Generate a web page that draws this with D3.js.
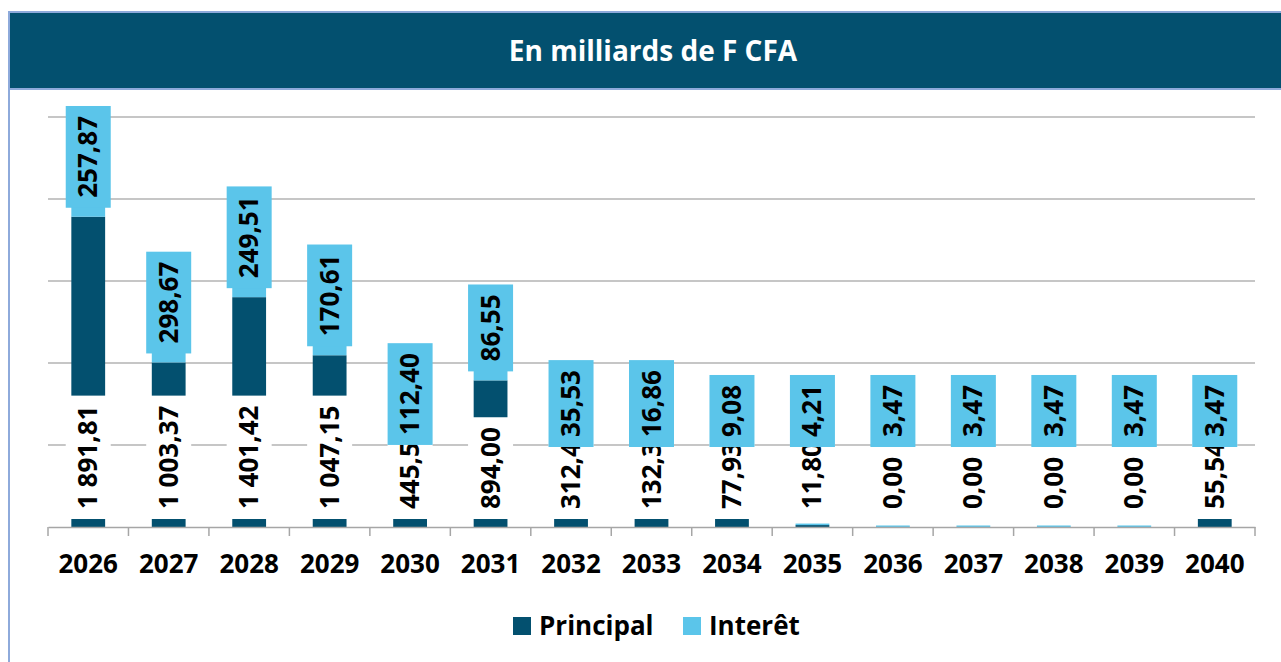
<!DOCTYPE html>
<html>
<head>
<meta charset="utf-8">
<title>Service de la dette</title>
<style>
body { margin: 0; background: #fff; font-family: "Open Sans", sans-serif; }
.grid line { stroke: #b3b3b3; stroke-width: 1.5px; }
.lbl { font-weight: bold; font-size: 26px; fill: #000; }
</style>
</head>
<body>
<script src="https://cdn.jsdelivr.net/npm/d3@7"></script>
<script>
// data
var years = ["2026","2027","2028","2029","2030","2031","2032","2033","2034","2035","2036","2037","2038","2039","2040"];
var principal = [1891.81, 1003.37, 1401.42, 1047.15, 445.51, 894.00, 312.45, 132.34, 77.93, 11.80, 0.00, 0.00, 0.00, 0.00, 55.54];
var interet = [257.87, 298.67, 249.51, 170.61, 112.40, 86.55, 35.53, 16.86, 9.08, 4.21, 3.47, 3.47, 3.47, 3.47, 3.47];
var gridTicks = [500, 1000, 1500, 2000, 2500];
var seriesNames = ["Principal", "Interêt"];

var W = 1281, H = 662;
var dark = "#03506f", light = "#5bc5ea", frame = "#8eaadb";

var fr = d3.formatLocale({ decimal: ",", thousands: " ", grouping: [3], currency: ["", ""] });
var fmt = fr.format(",.2f");

var data = years.map(function (y, i) { return { year: y, p: principal[i], i: interet[i] }; });

var svg = d3.select("body").append("svg").attr("width", W).attr("height", H);

// title banner and frame
svg.append("line").attr("x1", 9).attr("x2", 9).attr("y1", 12).attr("y2", H)
    .attr("stroke", frame).attr("stroke-width", 2);
svg.append("rect").attr("x", 9).attr("y", 12).attr("width", W).attr("height", 77)
    .attr("fill", dark).attr("stroke", frame).attr("stroke-width", 2);
svg.append("text").attr("x", 653).attr("y", 51).attr("dy", "0.35em")
    .attr("text-anchor", "middle").attr("fill", "#fff")
    .style("font-weight", "bold").style("font-size", "28px")
    .text("En milliards de F CFA");

var plotLeft = 48, plotRight = 1255, base = 527, plotTop = 117;

var x = d3.scaleBand().domain(years).range([plotLeft, plotRight]).padding(0);
var y = d3.scaleLinear().domain([0, 2500]).range([base, plotTop]);
var barW = x.bandwidth() * 0.42;
var boxW = 45, pad = 10;

// gridlines
svg.append("g").attr("class", "grid").selectAll("line").data(gridTicks).enter().append("line")
    .attr("x1", plotLeft).attr("x2", plotRight)
    .attr("y1", function (d) { return y(d); }).attr("y2", function (d) { return y(d); });

// bars
var cx = function (d) { return x(d.year) + x.bandwidth() / 2; };
svg.selectAll(".barP").data(data).enter().append("rect").attr("class", "barP")
    .attr("x", function (d) { return cx(d) - barW / 2; }).attr("width", barW)
    .attr("y", function (d) { return y(d.p); })
    .attr("height", function (d) { return base - y(d.p); })
    .attr("fill", dark);
svg.selectAll(".barI").data(data).enter().append("rect").attr("class", "barI")
    .attr("x", function (d) { return cx(d) - barW / 2; }).attr("width", barW)
    .attr("y", function (d) { return Math.min(y(d.p + d.i), y(d.p) - 1.5); })
    .attr("height", function (d) { return Math.max(1.5, y(d.p) - y(d.p + d.i)); })
    .attr("fill", light);

// axis: labels centred, ticks on band edges
var ax = svg.append("g").attr("transform", "translate(0," + base + ")")
    .call(d3.axisBottom(x).tickSize(0).tickPadding(28));
ax.select(".domain").attr("stroke", "#a6a6a6").attr("stroke-width", 1.5);
ax.selectAll("text").attr("class", "lbl").attr("fill", "#000")
    .style("font-family", "'Open Sans', sans-serif");
var edges = years.map(function (d) { return x(d); }).concat([plotRight]);
ax.selectAll(".edge").data(edges).enter().append("line")
    .attr("x1", function (d) { return d; }).attr("x2", function (d) { return d; })
    .attr("y1", 0).attr("y2", 9).attr("stroke", "#a6a6a6").attr("stroke-width", 1.5);

// principal labels: white boxes, inside base
var pl = svg.selectAll(".labP").data(data).enter().append("g").attr("class", "labP");
pl.each(function (d) {
    var g = d3.select(this);
    var bottom = base - 8;
    var r = g.append("rect").attr("fill", "#fff");
    var t = g.append("text").attr("class", "lbl")
        .attr("transform", "translate(" + (cx(d) + 9) + "," + (bottom - pad) + ") rotate(-90)")
        .text(fmt(d.p));
    var len = t.node().getComputedTextLength();
    r.attr("x", cx(d) - boxW / 2).attr("width", boxW)
        .attr("y", bottom - len - 2 * pad).attr("height", len + 2 * pad);
});

// interest labels: light blue boxes, above the principal
var il = svg.selectAll(".labI").data(data).enter().append("g").attr("class", "labI");
il.each(function (d) {
    var g = d3.select(this);
    var bottom = Math.min(y(d.p) - 9, base - 80);
    var r = g.append("rect").attr("fill", light);
    var t = g.append("text").attr("class", "lbl")
        .attr("transform", "translate(" + (cx(d) + 9) + "," + (bottom - pad) + ") rotate(-90)")
        .text(fmt(d.i));
    var len = t.node().getComputedTextLength();
    r.attr("x", cx(d) - boxW / 2).attr("width", boxW)
        .attr("y", bottom - len - 2 * pad).attr("height", len + 2 * pad);
});

// legend
var leg = svg.append("g").attr("transform", "translate(513,617)");
var lx = [0, 170];
seriesNames.forEach(function (s, i) {
    leg.append("rect").attr("x", lx[i]).attr("y", 0).attr("width", 18).attr("height", 18)
        .attr("fill", i === 0 ? dark : light);
    leg.append("text").attr("class", "lbl").attr("x", lx[i] + 26).attr("y", 9).attr("dy", "0.35em")
        .text(s);
});
</script>
</body>
</html>
